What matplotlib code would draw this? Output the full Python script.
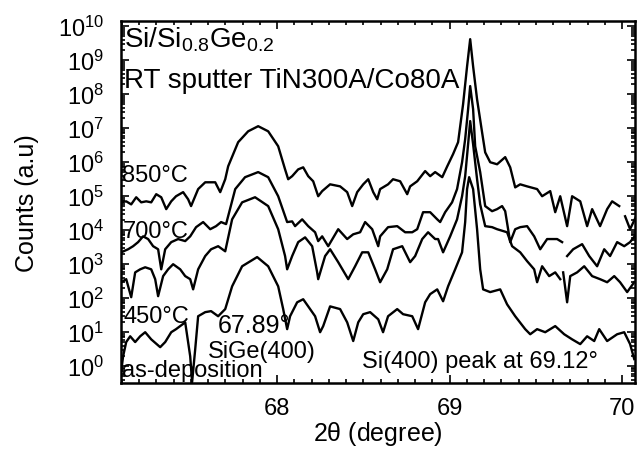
import numpy as np
import matplotlib
matplotlib.use('Agg')
import matplotlib.pyplot as plt
from matplotlib.ticker import MultipleLocator, LogLocator, NullFormatter

plt.rcParams['font.family'] = ['Liberation Sans', 'DejaVu Sans']
plt.rcParams['mathtext.fontset'] = 'custom'
plt.rcParams['mathtext.rm'] = 'Liberation Sans'
plt.rcParams['mathtext.it'] = 'Liberation Sans:italic'
plt.rcParams['mathtext.bf'] = 'Liberation Sans:bold'

# 2theta (degree) and log10(counts), nan = gap in trace
tt_850 = [67.096, 67.125, 67.154, 67.183, 67.212, 67.241, 67.270, 67.299, 67.328, 67.357,
          67.386, 67.414, 67.455, 67.484, 67.501, 67.542, 67.583, 67.641, 67.670, 67.699,
          67.716, 67.774, 67.832, 67.890, 67.948, 68.006, 68.046, 68.064, 68.087, 68.122,
          68.151, 68.180, 68.209, 68.238, 68.261, 68.307, 68.365, 68.406, 68.435, 68.464,
          68.499, 68.528, 68.557, 68.580, 68.597, 68.643, 68.672, 68.713, 68.754, 68.771,
          68.812, 68.858, 68.887, 68.916, 68.957, 68.986, 69.020, 69.049, 69.078, 69.101,
          69.119, 69.136, 69.159, 69.188, 69.206, 69.235, 69.275, 69.322, 69.351, 69.380,
          69.409, 69.449, 69.507, 69.536, 69.583, 69.612, 69.641, 69.681, 69.710, 69.757,
          69.797, 69.826, 69.872, 69.913, 69.942, 69.983, 69.995, 70.017, 70.046, 70.081]
lc_850 = [4.82, 4.85, 4.76, 4.97, 4.82, 4.85, 4.82, 5.06, 4.97, 4.62,
          4.85, 5.00, 5.12, 4.91, 4.71, 5.21, 5.41, 5.41, 5.12, 5.50,
          5.88, 6.59, 6.91, 7.06, 6.91, 6.47, 5.79, 5.50, 5.59, 5.79,
          5.85, 5.59, 5.44, 5.00, 5.15, 5.35, 5.29, 5.12, 4.71, 5.12,
          5.35, 5.50, 5.12, 4.91, 5.21, 5.35, 5.50, 5.44, 5.06, 5.29,
          5.44, 5.74, 5.59, 5.71, 5.56, 5.88, 6.24, 6.59, 7.71, 8.82,
          9.62, 8.82, 7.85, 6.88, 6.29, 6.00, 5.94, 6.15, 5.85, 5.26,
          5.35, 5.29, 5.21, 5.00, 5.15, 4.53, 5.00, 4.12, 5.00, 4.85,
          4.12, 4.62, 4.12, 4.62, 4.85, 4.71, np.nan, 4.41, 4.03, 4.41]

tt_700 = [67.096, 67.136, 67.165, 67.194, 67.223, 67.252, 67.281, 67.310, 67.328, 67.351,
          67.386, 67.426, 67.467, 67.496, 67.530, 67.571, 67.612, 67.646, 67.675, 67.704,
          67.757, 67.814, 67.890, 67.948, 68.006, 68.058, 68.087, 68.104, 68.145, 68.180,
          68.220, 68.238, 68.261, 68.296, 68.354, 68.406, 68.441, 68.481, 68.510, 68.551,
          68.586, 68.597, 68.643, 68.696, 68.742, 68.783, 68.812, 68.846, 68.887, 68.928,
          68.945, 68.974, 69.014, 69.043, 69.072, 69.090, 69.107, 69.119, 69.136, 69.148,
          69.177, 69.206, 69.246, 69.275, 69.304, 69.322, 69.351, 69.380, 69.409, 69.449,
          69.490, 69.525, 69.565, 69.623, 69.652, 69.665, 69.681, 69.716, 69.768, 69.809,
          69.855, 69.896, 69.930, 69.971, 70.012, 70.046, 70.081]
lc_700 = [3.35, 3.44, 3.53, 3.65, 3.82, 3.74, 3.53, 3.44, 2.85, 3.44,
          3.65, 3.74, 3.68, 3.82, 4.09, 4.24, 4.03, 4.12, 4.24, 4.18,
          5.21, 5.56, 5.71, 5.56, 5.00, 4.24, 4.26, 4.12, 4.32, 4.12,
          3.94, 3.68, 3.82, 3.53, 4.03, 3.74, 3.88, 3.94, 4.24, 4.03,
          3.53, 3.82, 4.09, 4.12, 3.94, 3.94, 4.03, 4.53, 4.53, 4.32,
          4.24, 4.53, 4.82, 5.21, 6.00, 6.68, 7.56, 8.24, 7.56, 6.47,
          5.71, 4.71, 4.56, 4.62, 4.71, 4.56, 3.65, 4.03, 4.09, 4.12,
          3.82, 3.44, 3.74, 3.74, 3.65, np.nan, 3.24, 3.44, 3.59, 3.24,
          2.94, 3.44, 3.24, 3.65, 3.53, 3.65, 3.88]

tt_450 = [67.096, 67.125, 67.154, 67.177, 67.206, 67.235, 67.270, 67.293, 67.310, 67.339,
          67.368, 67.397, 67.438, 67.467, 67.496, 67.513, 67.542, 67.583, 67.617, 67.658,
          67.699, 67.739, 67.797, 67.872, 67.948, 68.006, 68.046, 68.058, 68.087, 68.122,
          68.162, 68.203, 68.232, 68.238, 68.278, 68.307, 68.354, 68.412, 68.452, 68.493,
          68.528, 68.568, 68.597, 68.638, 68.672, 68.725, 68.771, 68.800, 68.841, 68.875,
          68.916, 68.933, 68.962, 69.003, 69.043, 69.072, 69.090, 69.107, 69.119, 69.136,
          69.159, 69.177, 69.206, 69.246, 69.275, 69.333, 69.362, 69.409, 69.449, 69.490,
          69.507, 69.536, 69.577, 69.612, 69.641, 69.650, 69.658, 69.681, 69.699, 69.739,
          69.780, 69.826, 69.872, 69.913, 69.954, 69.988, 70.029, 70.070]
lc_450 = [2.47, 2.56, 2.03, 2.76, 2.85, 2.91, 2.85, 2.56, 2.06, 2.65,
          2.85, 3.00, 2.85, 2.65, 2.56, 2.26, 2.85, 3.24, 3.44, 3.53,
          3.38, 4.32, 4.82, 4.97, 4.71, 4.03, 3.24, 2.85, 3.24, 3.65,
          3.79, 3.53, 2.76, 2.56, 3.24, 3.44, 3.06, 2.56, 2.94, 3.35,
          3.35, 2.85, 2.47, 2.85, 3.44, 3.53, 3.06, 3.24, 3.74, 3.94,
          3.74, 3.74, 3.35, 3.82, 4.32, 5.00, 5.59, 6.53, 7.21, 6.53,
          5.50, 4.76, 4.12, 4.09, 4.03, 3.94, 3.53, 3.35, 3.09, 2.85,
          2.47, 2.94, 2.65, 2.76, 2.56, np.nan, 2.76, 1.88, 2.65, 2.76,
          2.94, 2.65, 2.56, 2.47, 2.65, 2.47, 2.18, 2.47]

tt_asdep = [67.096, 67.107, 67.125, 67.148, 67.177, 67.206, 67.235, 67.270, 67.322, 67.351,
            67.386, 67.414, 67.467, 67.496, 67.507, 67.525, 67.542, 67.583, 67.617, 67.658,
            67.699, 67.739, 67.797, 67.884, 67.948, 68.006, 68.035, 68.058, 68.075, 68.116,
            68.151, 68.180, 68.220, 68.249, 68.267, 68.307, 68.365, 68.406, 68.441, 68.470,
            68.499, 68.539, 68.586, 68.614, 68.643, 68.696, 68.730, 68.783, 68.817, 68.858,
            68.887, 68.928, 68.962, 68.991, 69.032, 69.072, 69.090, 69.101, 69.113, 69.136,
            69.159, 69.177, 69.194, 69.235, 69.293, 69.333, 69.380, 69.438, 69.467, 69.507,
            69.554, 69.612, 69.664, 69.710, 69.757, 69.797, 69.838, 69.867, 69.913, 69.971,
            70.012, 70.046, 70.070]
lc_asdep = [-0.15, 0.29, 0.71, 0.88, 0.71, 0.88, 1.00, 0.79, 0.56, 0.71,
            1.00, 1.09, 1.29, 0.29, -0.47, 0.50, 1.47, 1.59, 1.62, 1.47,
            1.68, 2.35, 2.94, 3.21, 2.94, 2.35, 1.68, 1.09, 1.47, 1.88,
            1.97, 1.76, 1.47, 1.00, 1.18, 1.76, 1.68, 1.29, 0.74, 1.29,
            1.53, 1.59, 1.38, 1.00, 1.47, 1.68, 1.53, 1.47, 1.09, 1.88,
            2.12, 2.26, 1.91, 2.35, 2.85, 3.35, 4.24, 5.21, 5.56, 5.21,
            4.03, 2.85, 2.26, 2.18, 2.26, 1.82, 1.47, 1.09, 0.94, 1.09,
            1.00, 1.18, 0.94, 0.79, 0.65, 0.88, 0.74, 1.09, 0.74, 0.94,
            1.00, 0.65, 0.21]

series = [(tt_850, lc_850), (tt_700, lc_700), (tt_450, lc_450), (tt_asdep, lc_asdep)]

fig = plt.figure(figsize=(6.37, 4.52), dpi=100)
ax = fig.add_axes([0.19, 0.150, 0.807, 0.801])

for tt, lc in series:
    ax.plot(tt, 10 ** np.array(lc), color='black', lw=1.7)

ax.set_yscale('log')
ax.set_xlim(67.095, 70.075)
ax.set_ylim(10 ** -0.5, 10 ** 10.15)

ax.xaxis.set_major_locator(MultipleLocator(1))
ax.xaxis.set_minor_locator(MultipleLocator(0.1))
ax.yaxis.set_major_locator(LogLocator(base=10, numticks=15))
ax.yaxis.set_minor_locator(LogLocator(base=10, subs=np.arange(2, 10), numticks=15))
ax.yaxis.set_minor_formatter(NullFormatter())
ax.tick_params(which='both', direction='in', top=True, right=True, labelsize=17, width=1.2)
ax.tick_params(which='major', length=6)
ax.tick_params(which='minor', length=3)
ax.tick_params(axis='y', pad=12)
ax.tick_params(axis='x', pad=10)
for sp in ax.spines.values():
    sp.set_linewidth(1.8)

ax.set_xlabel(r'2$\mathregular{\theta}$ (degree)', fontsize=18, labelpad=0)
ax.set_ylabel('Counts (a.u)', fontsize=18, labelpad=14)

ax.text(67.113, 10 ** 9.41, r'Si/Si$_{\mathregular{0.8}}$Ge$_{\mathregular{0.2}}$', fontsize=20, va='baseline')
ax.text(67.113, 10 ** 8.21, 'RT sputter TiN300A/Co80A', fontsize=20, va='baseline')
ax.text(67.101, 10 ** 5.44, '850°C', fontsize=17, va='baseline')
ax.text(67.107, 10 ** 3.79, '700°C', fontsize=17, va='baseline')
ax.text(67.107, 10 ** 1.29, '450°C', fontsize=17, va='baseline')
ax.text(67.101, 10 ** -0.29, 'as-deposition', fontsize=17, va='baseline')
ax.text(67.658, 10 ** 1.0, '67.89°', fontsize=18, va='baseline')
ax.text(67.600, 10 ** 0.26, 'SiGe(400)', fontsize=17, va='baseline')
ax.text(68.493, 10 ** -0.03, 'Si(400) peak at 69.12°', fontsize=17, va='baseline')

fig.savefig('out.png', dpi=100)
